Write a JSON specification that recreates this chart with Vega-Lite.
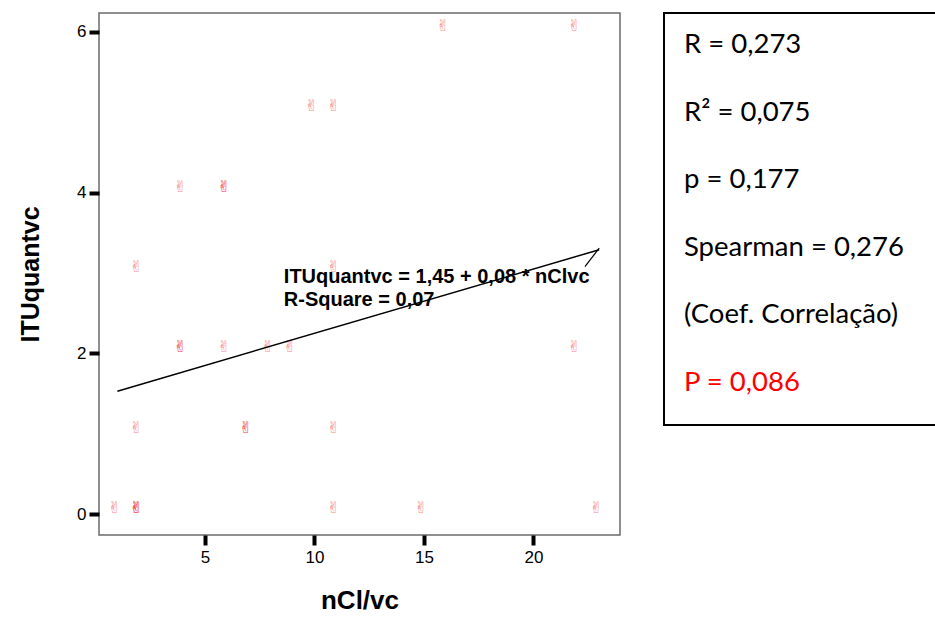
{
  "$schema": "https://vega.github.io/schema/vega-lite/v6.json",
  "padding": {"left": 17, "top": 12, "right": 0, "bottom": 0},
  "background": "white",
  "config": {"font": "Liberation Sans", "view": {"stroke": null}},
  "spacing": 42,
  "hconcat": [
    {
      "width": 521,
      "height": 522,
      "view": {"stroke": "#6b6b6b", "strokeWidth": 1.5},
      "layer": [
        {
          "data": {"values": [
            {"nClvc": 1, "ITUquantvc": 0},
            {"nClvc": 2, "ITUquantvc": 0},
            {"nClvc": 2, "ITUquantvc": 0},
            {"nClvc": 2, "ITUquantvc": 0},
            {"nClvc": 2, "ITUquantvc": 1},
            {"nClvc": 2, "ITUquantvc": 3},
            {"nClvc": 4, "ITUquantvc": 2},
            {"nClvc": 4, "ITUquantvc": 2},
            {"nClvc": 4, "ITUquantvc": 4},
            {"nClvc": 6, "ITUquantvc": 4},
            {"nClvc": 6, "ITUquantvc": 4},
            {"nClvc": 6, "ITUquantvc": 2},
            {"nClvc": 7, "ITUquantvc": 1},
            {"nClvc": 7, "ITUquantvc": 1},
            {"nClvc": 8, "ITUquantvc": 2},
            {"nClvc": 9, "ITUquantvc": 2},
            {"nClvc": 10, "ITUquantvc": 5},
            {"nClvc": 11, "ITUquantvc": 5},
            {"nClvc": 11, "ITUquantvc": 3},
            {"nClvc": 11, "ITUquantvc": 1},
            {"nClvc": 11, "ITUquantvc": 0},
            {"nClvc": 15, "ITUquantvc": 0},
            {"nClvc": 16, "ITUquantvc": 6},
            {"nClvc": 22, "ITUquantvc": 6},
            {"nClvc": 22, "ITUquantvc": 2},
            {"nClvc": 23, "ITUquantvc": 0}
          ]},
          "mark": {"type": "text", "text": "✌", "font": "DejaVu Sans", "fontSize": 16, "color": "#f03c3c", "opacity": 0.6, "dx": -3, "dy": -6, "baseline": "middle", "align": "center"},
          "encoding": {
            "x": {
              "field": "nClvc", "type": "quantitative",
              "scale": {"domain": [0.16, 23.95], "nice": false, "zero": false},
              "axis": {
                "title": "nCl/vc", "values": [5, 10, 15, 20], "format": "d", "grid": false, "domain": false,
                "tickColor": "black", "tickWidth": 4, "tickSize": 10,
                "labelFontSize": 17, "labelColor": "black", "labelPadding": 4,
                "titleFontSize": 26, "titleFontWeight": "bold", "titleColor": "black", "titlePadding": 22
              }
            },
            "y": {
              "field": "ITUquantvc", "type": "quantitative",
              "scale": {"domain": [-0.26, 6.236], "nice": false, "zero": false},
              "axis": {
                "title": "ITUquantvc", "values": [0, 2, 4, 6], "format": "d", "grid": false, "domain": false,
                "tickColor": "black", "tickWidth": 4, "tickSize": 10,
                "labelFontSize": 17, "labelColor": "black", "labelPadding": 3,
                "titleFontSize": 25, "titleFontWeight": "bold", "titleColor": "black", "titlePadding": 33
              }
            }
          }
        },
        {
          "data": {"values": [
            {"nClvc": 1, "fit": 1.53},
            {"nClvc": 23, "fit": 3.29}
          ]},
          "mark": {"type": "line", "color": "black", "strokeWidth": 1.5},
          "encoding": {
            "x": {"field": "nClvc", "type": "quantitative"},
            "y": {"field": "fit", "type": "quantitative"}
          }
        },
        {
          "data": {"values": [
            {"xa": 22.35, "ya": 3.08, "xb": 23, "yb": 3.31}
          ]},
          "mark": {"type": "rule", "color": "black", "strokeWidth": 1.2},
          "encoding": {
            "x": {"field": "xa", "type": "quantitative"},
            "y": {"field": "ya", "type": "quantitative"},
            "x2": {"field": "xb"},
            "y2": {"field": "yb"}
          }
        },
        {
          "data": {"values": [
            {"label": "ITUquantvc = 1,45 + 0,08 * nClvc", "ax": 8.6, "ay": 2.95},
            {"label": "R-Square = 0,07", "ax": 8.6, "ay": 2.66}
          ]},
          "mark": {"type": "text", "align": "left", "baseline": "middle", "fontSize": 20, "fontWeight": "bold", "color": "black", "font": "Liberation Sans"},
          "encoding": {
            "x": {"field": "ax", "type": "quantitative"},
            "y": {"field": "ay", "type": "quantitative"},
            "text": {"field": "label"}
          }
        }
      ]
    },
    {
      "width": 275,
      "height": 412,
      "view": {"stroke": "black", "strokeWidth": 2},
      "data": {"values": [
        {"k": 1, "label": "R = 0,273", "kind": "stat"},
        {"k": 2, "label": "R² = 0,075", "kind": "stat"},
        {"k": 3, "label": "p = 0,177", "kind": "stat"},
        {"k": 4, "label": "Spearman = 0,276", "kind": "stat"},
        {"k": 5, "label": "(Coef. Correlação)", "kind": "stat"},
        {"k": 6, "label": "P = 0,086", "kind": "p"}
      ]},
      "mark": {"type": "text", "font": "Lato", "fontSize": 27.5, "align": "left", "baseline": "middle", "dx": 20, "dy": -5},
      "encoding": {
        "x": {"datum": 0, "type": "quantitative", "scale": {"domain": [0, 1]}, "axis": null},
        "y": {"field": "k", "type": "ordinal", "scale": {"type": "point", "padding": 0.55}, "axis": null},
        "text": {"field": "label"},
        "color": {"field": "kind", "type": "nominal", "scale": {"domain": ["stat", "p"], "range": ["black", "#ff0000"]}, "legend": null}
      }
    }
  ]
}
